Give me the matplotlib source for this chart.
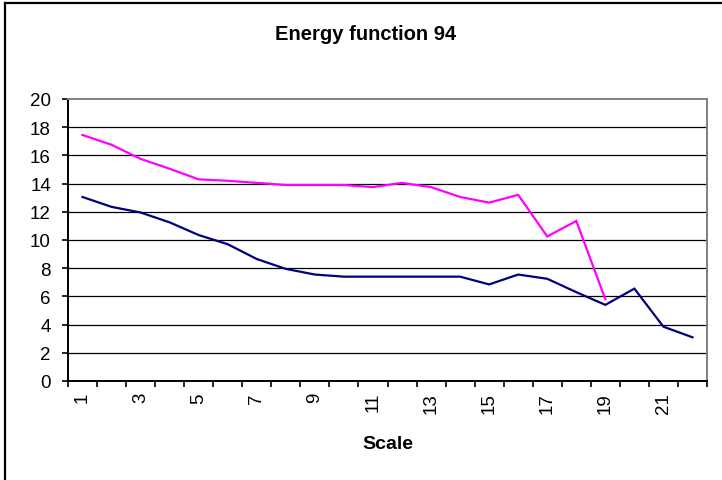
import matplotlib
matplotlib.use("Agg")
import matplotlib.pyplot as plt
from matplotlib.lines import Line2D
from matplotlib.ticker import FixedLocator, NullFormatter

plt.rcParams['font.family'] = ['Liberation Sans', 'DejaVu Sans']

# Energy values per scale
scale_a = list(range(1, 20))
energy_a = [17.45, 16.75, 15.75, 15.05, 14.3, 14.2, 14.05, 13.9, 13.9, 13.9,
            13.75, 14.05, 13.75, 13.05, 12.65, 13.2, 10.25, 11.35, 5.8]

scale_b = list(range(1, 23))
energy_b = [13.05, 12.35, 11.95, 11.25, 10.35, 9.7, 8.65, 7.95, 7.55, 7.4,
            7.4, 7.4, 7.4, 7.4, 6.85, 7.55, 7.25, 6.3, 5.4, 6.55, 3.85, 3.1]

categories = list(range(1, 23))
y_ticks = list(range(0, 21, 2))

W, H = 722, 481
fig = plt.figure(figsize=(W / 100, H / 100), dpi=100)
ax = fig.add_axes([68 / W, 1 - 382 / H, (707 - 68) / W, (382 - 100) / H])

ax.plot(scale_a, energy_a, color='#FF00FF', lw=1.6, solid_joinstyle='miter', zorder=3)
ax.plot(scale_b, energy_b, color='#000080', lw=1.6, solid_joinstyle='miter', zorder=3)

ax.set_xlim(0.5, len(categories) + 0.5)
ax.set_ylim(0, 20)

# category boundaries carry the tick marks, odd categories carry labels
ax.xaxis.set_major_locator(FixedLocator([c - 0.5 for c in categories] + [categories[-1] + 0.5]))
ax.xaxis.set_major_formatter(NullFormatter())
odd = [c for c in categories if c % 2 == 1]
ax.xaxis.set_minor_locator(FixedLocator(odd))
ax.set_xticklabels([str(c) for c in odd], minor=True, rotation=90, fontsize=13.5)
ax.tick_params(axis='x', which='major', direction='out', length=4.3, width=1.2, color='black')
ax.tick_params(axis='x', which='minor', length=0, pad=8)

ax.set_yticks(y_ticks)
ax.set_yticklabels([str(v) for v in y_ticks], fontsize=13.5)
ax.tick_params(axis='y', direction='out', length=4.3, width=1.2, color='black', pad=8)

for v in y_ticks[1:-1]:
    ax.axhline(v, color='black', lw=0.9, zorder=1)

ax.spines['left'].set_color('black')
ax.spines['left'].set_linewidth(1.4)
ax.spines['bottom'].set_color('black')
ax.spines['bottom'].set_linewidth(1.4)
ax.spines['top'].set_color('#808080')
ax.spines['top'].set_linewidth(1.4)
ax.spines['right'].set_color('#808080')
ax.spines['right'].set_linewidth(1.4)

fig.text(366 / W, 1 - 35 / H, 'Energy function 94', ha='center', va='center',
         fontsize=14.5, fontweight='bold')
fig.text(388 / W, 1 - 445 / H, 'Scale', ha='center', va='center',
         fontsize=14, fontweight='bold')

# outer frame
fig.add_artist(Line2D([5 / W, 5 / W], [-0.01, 1 - 4 / H], transform=fig.transFigure,
                      color='black', lw=1.6))
fig.add_artist(Line2D([5 / W, 1.01], [1 - 4 / H, 1 - 4 / H], transform=fig.transFigure,
                      color='black', lw=1.6))

fig.savefig('out.png', dpi=100)
